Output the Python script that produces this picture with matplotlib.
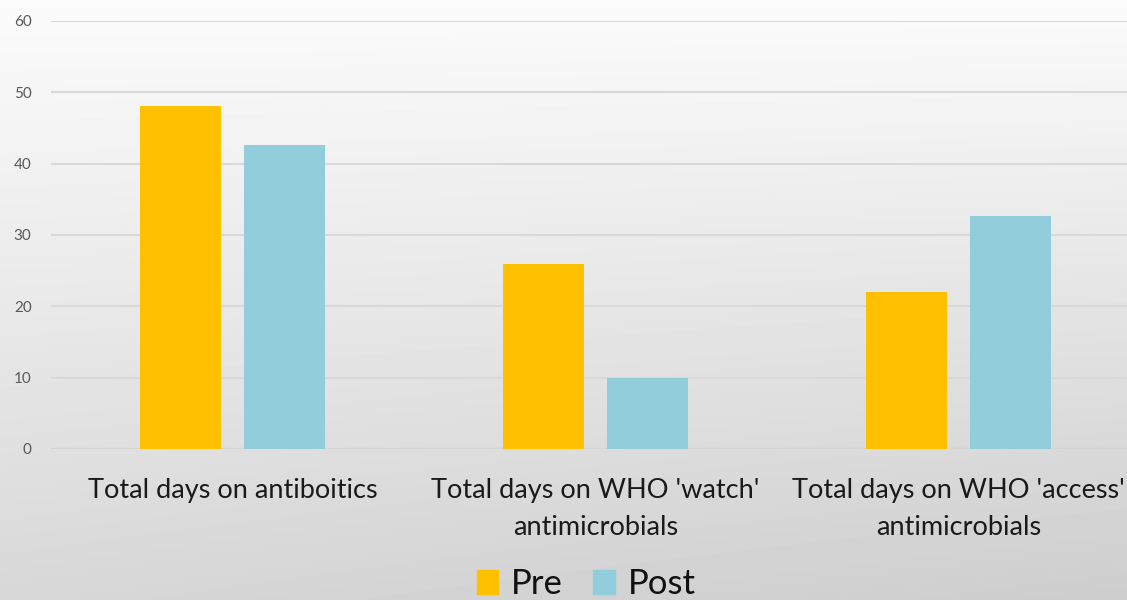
import matplotlib.pyplot as plt
import numpy as np
from matplotlib.patches import Patch

categories = ["Total days on antiboitics",
              "Total days on WHO 'watch'\nantimicrobials",
              "Total days on WHO 'access'\nantimicrobials"]
pre = [48.1, 25.9, 22.0]
post = [42.6, 10.0, 32.7]
series_names = ["Pre", "Post"]
yticks = [0, 10, 20, 30, 40, 50, 60]

pre_color = '#FFC000'
post_color = '#92CDDC'

plt.rcParams['font.family'] = ['Lato', 'DejaVu Sans']

fig = plt.figure(figsize=(11.27, 6), dpi=100)

# background gradient
bg = fig.add_axes([0, 0, 1, 1], zorder=-10)
yy, xx = np.mgrid[0:1:200j, 0:1:200j]
shade = 0.985 - 0.14 * yy - 0.04 * xx * yy
bg.imshow(shade, cmap='gray', vmin=0, vmax=1, aspect='auto',
          extent=[0, 1, 0, 1], origin='upper')
bg.axis('off')

ax = fig.add_axes([51 / 1127, 151 / 600, 1 - 51 / 1127, 428 / 600])
ax.patch.set_alpha(0)

x = np.arange(len(categories))
w = 0.223
off = 0.143
ax.bar(x - off, pre, w, color=pre_color, zorder=3)
ax.bar(x + off, post, w, color=post_color, zorder=3)

ax.set_xlim(-0.5, 2.5 - 13 / 363)
ax.set_ylim(0, 60)
ax.set_yticks(yticks)
ax.yaxis.grid(True, color='#d9d9d9', linewidth=1.5, zorder=0)
ax.set_axisbelow(True)
for s in ax.spines.values():
    s.set_visible(False)
ax.axhline(0, color='#d4d4d4', linewidth=1.5, zorder=1)

ax.tick_params(axis='y', length=0, labelsize=11, labelcolor='#595959', pad=14)
ax.tick_params(axis='x', length=0, pad=21)
ax.set_xticks(x)
ax.set_xticklabels(categories, fontsize=19.5, color='#1a1a1a', linespacing=1.6)

handles = [Patch(color=pre_color), Patch(color=post_color)]
fig.legend(handles, series_names, loc='center', bbox_to_anchor=(586 / 1127, 16 / 600),
           ncol=2, frameon=False, fontsize=25, handlelength=0.63, handleheight=0.66,
           handletextpad=0.37, columnspacing=0.85, borderpad=0, labelcolor='#111111')

fig.savefig('out.png', dpi=100)
